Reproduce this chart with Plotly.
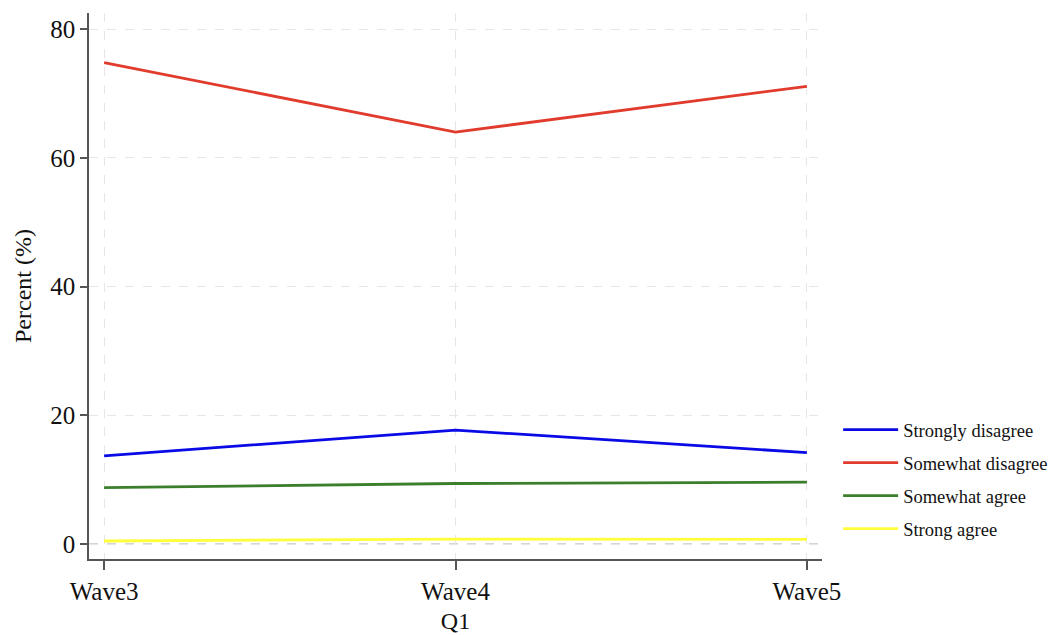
import plotly.graph_objects as go

waves = ["Wave3", "Wave4", "Wave5"]
strongly_disagree = [13.7, 17.7, 14.2]
somewhat_disagree = [74.8, 64.0, 71.1]
somewhat_agree = [8.75, 9.4, 9.6]
strong_agree = [0.47, 0.75, 0.72]

series = [
    ("Strongly disagree", strongly_disagree, "#0A0AE6"),
    ("Somewhat disagree", somewhat_disagree, "#E13B2D"),
    ("Somewhat agree", somewhat_agree, "#3B7F2C"),
    ("Strong agree", strong_agree, "#FFFF3A"),
]

FONT = "Liberation Serif, Times New Roman, serif"

fig = go.Figure()
for i, (name, vals, col) in enumerate(series):
    fig.add_trace(go.Scatter(
        x=waves, y=vals, mode="lines", name=name,
        line=dict(color=col, width=2.8),
        legendgroup=f"g{i}",
    ))

fig.add_shape(type="line", xref="paper", yref="y", x0=0, x1=1, y0=0, y1=0,
              line=dict(color="#C8C8C8", width=1.5, dash="dash"), layer="below")

fig.update_layout(
    width=1056, height=635,
    margin=dict(l=89, r=234, t=13, b=76, autoexpand=False),
    paper_bgcolor="white", plot_bgcolor="white",
    font=dict(family=FONT, color="#111111", size=25),
    showlegend=True,
    legend=dict(
        x=1.022, xanchor="left", y=0.271, yanchor="top",
        font=dict(family=FONT, size=18.5, color="#111111"),
        itemwidth=55, tracegroupgap=6,
        bgcolor="rgba(0,0,0,0)",
    ),
    xaxis=dict(
        type="category", range=[-0.043, 2.043], automargin=False,
        showline=True, linecolor="#555555", linewidth=1.5,
        ticks="outside", ticklen=9, tickcolor="#555555", tickwidth=1.5,
        showgrid=True, gridcolor="#E6E6E6", griddash="dash", gridwidth=1.2,
        tickfont=dict(size=25),
        title=dict(text="Q1", font=dict(size=24), standoff=8),
        zeroline=False,
    ),
    yaxis=dict(
        range=[-2.33, 82.5], automargin=False,
        tickvals=[0, 20, 40, 60, 80],
        showline=True, linecolor="#555555", linewidth=1.5,
        ticks="outside", ticklen=7, tickcolor="#555555", tickwidth=1.5,
        showgrid=True, gridcolor="#E6E6E6", griddash="dash", gridwidth=1.2,
        tickfont=dict(size=25),
        title=dict(text="Percent (%)", font=dict(size=24), standoff=12),
        zeroline=False,
    ),
)

fig.write_html("out.html", config={"displayModeBar": False},
               post_script="document.body.style.margin='0';")
